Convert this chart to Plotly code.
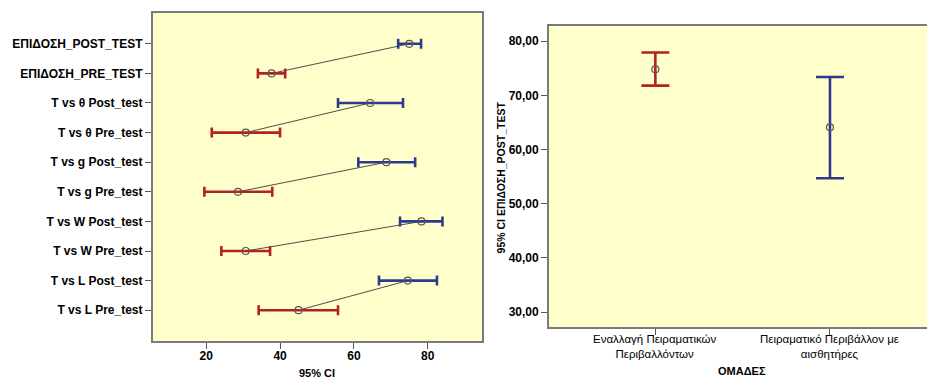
import plotly.graph_objects as go

# ---- Left chart data (top to bottom) ----
labels = ["ΕΠΙΔΟΣΗ_POST_TEST", "ΕΠΙΔΟΣΗ_PRE_TEST",
          "T vs θ Post_test", "T vs θ Pre_test",
          "T vs g Post_test", "T vs g Pre_test",
          "T vs W Post_test", "T vs W Pre_test",
          "T vs L Post_test", "T vs L Pre_test"]
means = [75.0, 37.7, 64.4, 30.7, 68.8, 28.6, 78.3, 30.7, 74.6, 45.0]
lower = [72.0, 34.0, 55.7, 21.5, 61.2, 19.5, 72.5, 24.1, 66.8, 34.2]
upper = [78.2, 41.4, 73.3, 40.0, 76.6, 37.9, 84.0, 37.3, 82.5, 55.7]
x_ticks = [20, 40, 60, 80]

# ---- Right chart data ----
group_lines = [["Εναλλαγή Πειραματικών", "Περιβαλλόντων"],
               ["Πειραματικό Περιβάλλον με", "αισθητήρες"]]
groups = [" ".join(l) for l in group_lines]
g_means = [74.8, 64.1]
g_lower = [71.8, 54.7]
g_upper = [77.9, 73.4]
y2_ticks = [30, 40, 50, 60, 70, 80]

RED = "#B22222"
BLUE = "#2E3A8C"
BG = "#FFFFCC"
FRAME = "#7a7a7a"
FONT = "Liberation Sans, Arial, sans-serif"

# page body has an 8px margin; size the figure so it fills the window exactly
OFF = 8
W, H = 935 - OFF, 379 - OFF


def px(x):
    return (x - OFF) / W


def py(y):
    return 1 - (y - OFF) / H


fig = go.Figure()

# connecting lines between pre and post means of each pair
lx, ly = [], []
for i in range(0, len(labels), 2):
    lx += [means[i], means[i + 1], None]
    ly += [labels[i], labels[i + 1], None]
fig.add_trace(go.Scatter(x=lx, y=ly, mode="lines",
                         line=dict(color="#222222", width=0.8),
                         xaxis="x", yaxis="y", hoverinfo="skip", showlegend=False))

for i, lab in enumerate(labels):
    col = BLUE if i % 2 == 0 else RED
    fig.add_trace(go.Scatter(
        x=[means[i]], y=[lab], mode="markers",
        marker=dict(symbol="circle-open", size=7, color="#555555", line=dict(width=1.2)),
        error_x=dict(type="data", symmetric=False,
                     array=[upper[i] - means[i]], arrayminus=[means[i] - lower[i]],
                     color=col, thickness=2.6, width=5),
        xaxis="x", yaxis="y", showlegend=False))

for i, g in enumerate(groups):
    col = RED if i == 0 else BLUE
    fig.add_trace(go.Scatter(
        x=[g], y=[g_means[i]], mode="markers",
        marker=dict(symbol="circle-open", size=7, color="#555555", line=dict(width=1.2)),
        error_y=dict(type="data", symmetric=False,
                     array=[g_upper[i] - g_means[i]], arrayminus=[g_means[i] - g_lower[i]],
                     color=col, thickness=2.6, width=14),
        xaxis="x2", yaxis="y2", showlegend=False))

axis_common = dict(showline=True, linecolor=FRAME, linewidth=1.5, mirror=True,
                   ticks="outside", tickcolor="#555555", ticklen=6, tickwidth=1,
                   showgrid=False, zeroline=False)

bold_tick = dict(size=12, weight="bold", color="#000000")

annotations = [
    dict(text="<b>95% CI</b>", x=px(318), y=py(372.5), xref="paper", yref="paper",
         showarrow=False, xanchor="center", yanchor="middle",
         font=dict(size=11, family=FONT)),
    dict(text="<b>ΟΜΑΔΕΣ</b>", x=px(744), y=py(370.5), xref="paper", yref="paper",
         showarrow=False, xanchor="center", yanchor="middle",
         font=dict(size=11, family=FONT)),
    dict(text="<b>95% CI ΕΠΙΔΟΣΗ_POST_TEST</b>", x=px(502), y=py(177.5),
         xref="paper", yref="paper", textangle=-90,
         showarrow=False, xanchor="center", yanchor="middle",
         font=dict(size=10.5, family=FONT)),
]
# category labels of the right chart (two lines each), placed on the x2 scale
for g, lines in zip(groups, group_lines):
    annotations.append(dict(text="<br>".join(lines), x=g, xref="x2",
                            y=py(346.5), yref="paper", showarrow=False,
                            xanchor="center", yanchor="middle", align="center",
                            font=dict(size=11.5, family=FONT, color="#000000")))

fig.update_layout(
    width=W, height=H,
    margin=dict(l=0, r=0, t=0, b=0),
    paper_bgcolor="white", plot_bgcolor=BG,
    separators=",.",
    font=dict(family=FONT, size=12, color="#000000"),
    xaxis=dict(domain=[px(153), px(483)], anchor="y", range=[5.5, 94.7],
               tickvals=x_ticks, tickfont=bold_tick, ticklabelstandoff=-3, **axis_common),
    yaxis=dict(domain=[py(341), py(13)], anchor="x",
               type="category", categoryorder="array", categoryarray=labels,
               range=[10.04, -1.04], tickfont=bold_tick, **axis_common),
    xaxis2=dict(domain=[px(550), 1.0], anchor="y2", type="category",
                categoryorder="array", categoryarray=groups, showticklabels=False,
                range=[-0.61, 1.59], **axis_common),
    yaxis2=dict(domain=[py(327.3), py(26)], anchor="x2",
                range=[27.2, 82.8], tickvals=y2_ticks, tickformat=".2f",
                tickfont=bold_tick, **axis_common),
    annotations=annotations,
)

fig.write_html("out.html")
